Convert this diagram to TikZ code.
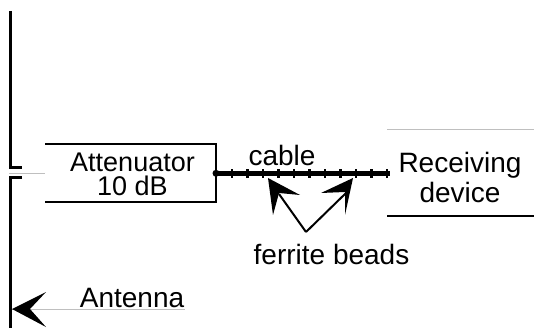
\documentclass[tikz,border=0pt]{standalone}
\usepackage{fontspec}
\setmainfont{Liberation Sans}
\tikzset{
 lbl/.style={inner sep=0pt,font=\fontsize{28}{29}\selectfont,align=center,text=black},
 smalllbl/.style={inner sep=0pt,font=\fontsize{27}{24}\selectfont,align=center,text=black},
 heavy/.style={line width=3pt,black},
 boxline/.style={line width=2pt,black},
 thin gray/.style={line width=1pt,black!25},
 tiphead/.style={fill=black,draw=none},
 thinarrow/.style={line width=2pt,black}
}
\begin{document}
\begin{tikzpicture}[x=1pt,y=-1pt]
\useasboundingbox (0,0) rectangle (534,328);
% antenna
\draw[heavy,line cap=butt] (10.5,11) -- (10.5,168) -- (22,168);
\draw[heavy,line cap=butt] (22,178) -- (10.5,178) -- (10.5,328);
\draw[thin gray] (9,173.5) -- (45,173.5);
% attenuator
\draw[boxline] (45,144.5) -- (216,144.5) -- (216,202) -- (45,202);
\node[smalllbl] (att) at (132.5,174.5) {Attenuator\\10 dB};
% cable
\coordinate (ca) at (216,173.3);
\coordinate (cb) at (390,173.3);
\draw[line width=4.5pt] (ca) -- (cb);
\fill (ca) circle (3.5);
\foreach \i in {0,...,10}{
 \fill ({232+\i*15.5-1.2},169) rectangle ++(2.4,8.6);
}
\node[lbl] (cab) at (282,155) {cable};
% receiver
\draw[thin gray] (387,129.5) -- (534,129.5);
\draw[boxline] (387,216.5) -- (534,216.5);
\node[lbl] (rec) at (460,177.5) {Receiving\\[1pt]device};
% ferrite
\node[lbl] (fb) at (331.5,254) {ferrite beads};
\coordinate (ap) at (306,232);
\coordinate (lt) at (268,178);
\coordinate (rt) at (353,178);
\draw[thinarrow] (ap) -- (279,194);
\draw[thinarrow] (ap) -- (346,193);
\fill[tiphead] (lt) -- (300,195) -- (279,193) -- (273,215) -- cycle;
\fill[tiphead] (rt) -- (321,193) -- (345,192) -- (345,215) -- cycle;
% antenna label
\node[lbl] (ant) at (132,298) {Antenna};
\coordinate (at) at (12,309);
\draw[thin gray] (at) -- (185,309);
\fill[tiphead] (at) -- (46,292) -- (30,309) -- (46,327) -- cycle;
\end{tikzpicture}
\end{document}
